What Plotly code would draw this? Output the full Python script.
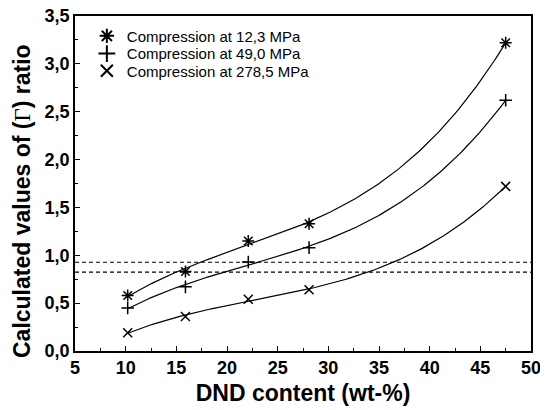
import numpy as np
import plotly.graph_objects as go

dnd = [10.2, 15.9, 22.1, 28.1, 47.5]
s_12 = [0.58, 0.83, 1.15, 1.33, 3.22]
s_49 = [0.45, 0.67, 0.93, 1.08, 2.62]
s_278 = [0.19, 0.36, 0.54, 0.64, 1.72]
names = ["Compression at 12,3 MPa", "Compression at 49,0 MPa", "Compression at 278,5 MPa"]
symbols = ["asterisk-open", "cross-thin-open", "x-thin-open"]
sizes = [10, 9, 9]
h_lines = [0.927, 0.825]
x_ticks = [5, 10, 15, 20, 25, 30, 35, 40, 45, 50]
x_labels = ["5", "10", "15", "20", "25", "30", "35", "40", "45", "50"]
y_ticks = [0.0, 0.5, 1.0, 1.5, 2.0, 2.5, 3.0, 3.5]
y_labels = ["0,0", "0,5", "1,0", "1,5", "2,0", "2,5", "3,0", "3,5"]
x_title = "DND content (wt-%)"
y_title = ("<b>Calculated values of (</b><span style=\"font-family:'Liberation Serif';"
           "font-weight:normal\">Γ</span><b>) ratio</b>")

legend_ids = ["legend", "legend2", "legend3"]
legend_rows = [0.940, 0.887, 0.836]

fig = go.Figure()
xs = np.linspace(min(dnd), max(dnd), 200)
for ys, nm, sym, sz, lg in zip([s_12, s_49, s_278], names, symbols, sizes, legend_ids):
    c = np.polyfit(dnd, ys, 3)
    fig.add_trace(go.Scatter(x=xs, y=np.polyval(c, xs), mode="lines",
                             line=dict(color="black", width=1.2), showlegend=False,
                             hoverinfo="skip"))
    fig.add_trace(go.Scatter(x=dnd, y=ys, mode="markers", name=nm, legend=lg,
                             marker=dict(symbol=sym, size=sz, color="black",
                                         line=dict(color="black", width=1.5))))

for h in h_lines:
    fig.add_hline(y=h, line=dict(color="black", width=1.2, dash="4px,3px"))

axis_common = dict(showline=True, linecolor="black", linewidth=1.6, mirror=True,
                   ticks="inside", ticklen=5, tickwidth=1.4, tickcolor="black",
                   showgrid=False, zeroline=False, automargin=False,
                   ticklabeloverflow="allow",
                   tickfont=dict(family="Arial", size=18, color="black"))

legend_style = dict(x=0.026, xanchor="left", yanchor="middle",
                    bgcolor="rgba(0,0,0,0)", font=dict(size=15, family="Arial", color="black"),
                    itemsizing="constant", itemwidth=30)

fig.update_layout(
    width=540, height=402,
    margin=dict(l=67, r=17, t=8, b=59),
    plot_bgcolor="white", paper_bgcolor="white",
    font=dict(family="Arial", color="black"),
    legend=dict(y=legend_rows[0], **legend_style),
    legend2=dict(y=legend_rows[1], **legend_style),
    legend3=dict(y=legend_rows[2], **legend_style),
    xaxis=dict(range=[5, 50], tickvals=x_ticks, ticktext=["<b>%s</b>" % t for t in x_labels],
               minor=dict(ticks="inside", ticklen=3, tickwidth=1.2, dtick=2.5, tickcolor="black"),
               title=dict(text="<b>%s</b>" % x_title, font=dict(size=23), standoff=7),
               **axis_common),
    yaxis=dict(range=[0, 3.5], tickvals=y_ticks, ticktext=["<b>%s</b>" % t for t in y_labels],
               minor=dict(ticks="inside", ticklen=3, tickwidth=1.2, dtick=0.25, tickcolor="black"),
               **axis_common),
    annotations=[dict(text=y_title, textangle=-90, xref="paper", yref="paper",
                      x=-0.116, y=0.448, xanchor="center", yanchor="middle",
                      showarrow=False, font=dict(size=23, family="Arial", color="black"))],
)

fig.write_html("out.html")
